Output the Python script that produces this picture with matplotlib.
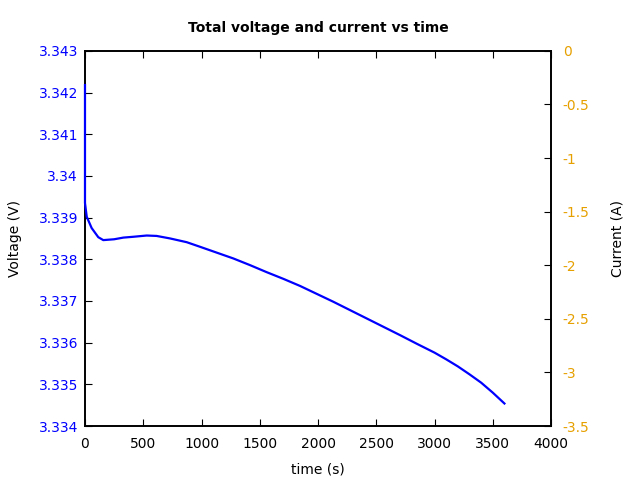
import matplotlib
matplotlib.use("Agg")
import matplotlib.pyplot as plt
from matplotlib.ticker import FuncFormatter

plt.rcParams["axes.unicode_minus"] = False

# --- data ---
time_s = [0, 0, 15, 57, 114, 157, 250, 329, 415, 530, 615, 730, 873, 987,
          1130, 1273, 1416, 1560, 1703, 1846, 1989, 2132, 2275, 2418, 2561,
          2704, 2850, 3000, 3100, 3200, 3300, 3400, 3500, 3600]
voltage = [3.34218, 3.33935, 3.33902, 3.33875, 3.33853, 3.33846, 3.33848,
           3.33852, 3.33854, 3.33857, 3.33856, 3.33850, 3.33841, 3.33830,
           3.33816, 3.33802, 3.33786, 3.33769, 3.33753, 3.33736, 3.33717,
           3.33698, 3.33678, 3.33658, 3.33638, 3.33618, 3.33597, 3.33576,
           3.33560, 3.33543, 3.33524, 3.33504, 3.33480, 3.33454]

v_ticks = [3.334, 3.335, 3.336, 3.337, 3.338, 3.339, 3.340, 3.341, 3.342, 3.343]
i_ticks = [-3.5, -3, -2.5, -2, -1.5, -1, -0.5, 0]
t_ticks = [0, 500, 1000, 1500, 2000, 2500, 3000, 3500, 4000]

BLUE = "#0000ff"
ORANGE = "#e6a000"

fig = plt.figure(figsize=(6.4, 4.8), dpi=100)
ax = fig.add_axes([0.1328, 0.1125, 0.7282, 0.7815])
ax.set_xlim(0, 4000)
ax.set_ylim(3.334, 3.343)
ax.set_xticks(t_ticks)
ax.set_yticks(v_ticks)
ax.yaxis.set_major_formatter(FuncFormatter(lambda v, p: "%g" % round(v, 4)))
ax.tick_params(axis="y", labelcolor=BLUE, color="black", labelsize=10,
               direction="in", length=5, pad=5)
ax.tick_params(axis="x", labelsize=10, direction="in", length=5, top=True, pad=8)
ax.set_xlabel("time (s)", labelpad=8)
ax.set_ylabel("Voltage (V)", labelpad=12)
ax.set_title("Total voltage and current vs time", fontsize=10,
             fontweight="bold", pad=13.5)

ax2 = ax.twinx()
ax2.set_ylim(-3.5, 0)
ax2.set_yticks(i_ticks)
ax2.yaxis.set_major_formatter(FuncFormatter(lambda v, p: "%g" % v))
ax2.tick_params(axis="y", labelcolor=ORANGE, color="black", labelsize=10,
                direction="in", length=5, pad=8.5)
ax2.set_ylabel("Current (A)", labelpad=15)

for a in (ax, ax2):
    for s in a.spines.values():
        s.set_color("black")
        s.set_linewidth(1.2)

# voltage line drawn on top axes so the t=0 spike sits over the spine
ax2.plot(time_s, voltage, color=BLUE, lw=1.6, clip_on=False, zorder=5,
         transform=ax.transData)

fig.savefig("out.png", dpi=100)
